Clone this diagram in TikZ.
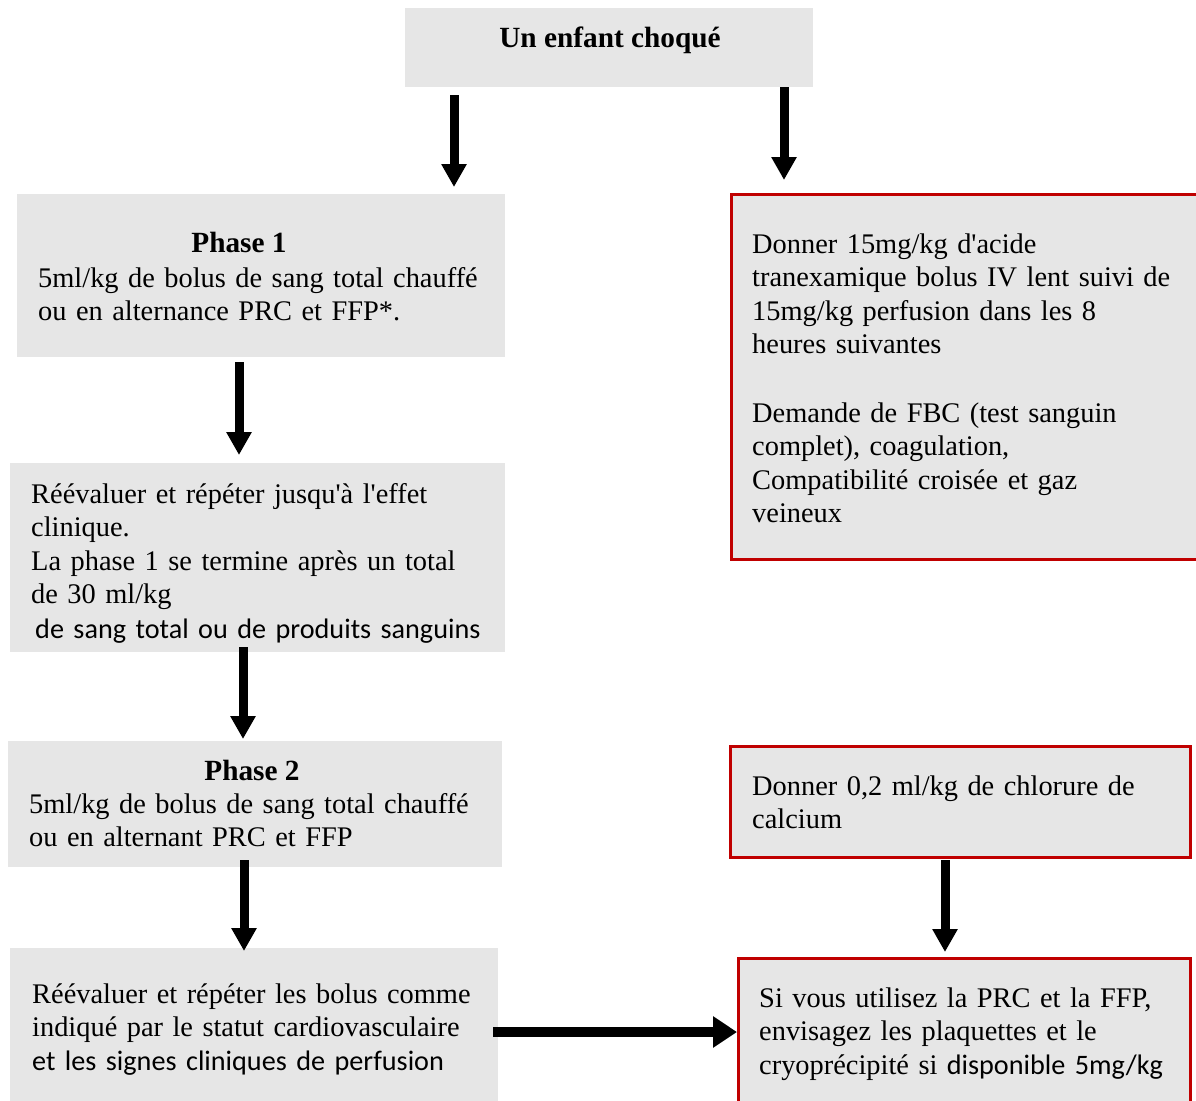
\documentclass[tikz,border=0pt]{standalone}
\usepackage{fontspec}
\setmainfont{Liberation Serif}
\newfontfamily\carlitofont{Carlito}
\newcommand{\sq}{\textquotesingle}
\usetikzlibrary{arrows.meta}
\definecolor{boxgray}{HTML}{E6E6E6}
\definecolor{boxred}{HTML}{C00000}
\begin{document}
\begin{tikzpicture}[x=1pt,y=-1pt,
  panel/.style={fill=boxgray, draw=none, inner sep=0pt, outer sep=0pt, anchor=north west},
  redpanel/.style={panel, draw=boxred, line width=3pt},
  txt/.style={anchor=base west, inner sep=0pt, align=left, text width=490pt,
    font=\fontsize{28.4}{33.5}\selectfont},
  head/.style={anchor=base, inner sep=0pt, font=\fontsize{29.3}{33.5}\selectfont\bfseries},
  flow/.style={line width=9pt, -{Triangle[width=24pt,length=23pt]}},
  flowh/.style={line width=10pt, -{Triangle[width=30pt,length=24pt]}},
]
\useasboundingbox (0,0) rectangle (1196,1100);

% boxes
\node[panel, minimum width=408pt, minimum height=79pt] (top) at (405,8) {};
\node[panel, minimum width=488pt, minimum height=163pt] (p1) at (17,194) {};
\node[panel, minimum width=495pt, minimum height=189pt] (re1) at (10,463) {};
\node[panel, minimum width=494pt, minimum height=126pt] (p2) at (8,741) {};
\node[panel, minimum width=488pt, minimum height=165pt] (re2) at (10,948) {};
\node[redpanel, minimum width=474pt, minimum height=365pt] (tx) at (731,194) {};
\node[redpanel, minimum width=460pt, minimum height=111pt] (ca) at (730,746) {};
\node[redpanel, minimum width=452pt, minimum height=165pt] (cr) at (738,958) {};

% texts
\node[head] (ttop) at (610,47) {Un enfant choqué};
\node[head] (tp1h) at (239,252) {Phase 1};
\node[txt] (tp1) at (38,287) {5ml/kg de bolus de sang total chauffé\\ou en alternance PRC et FFP*.};
\node[txt] (tre1) at (31,503) {Réévaluer et répéter jusqu\sq à l\sq effet\\clinique.\\La phase 1 se termine après un total\\de 30 ml/kg\\[1.5pt]\hspace*{4pt}{\carlitofont\fontsize{28.2}{33.5}\selectfont de sang total ou de produits sanguins}};
\node[head] (tp2h) at (252,780) {Phase 2};
\node[txt] (tp2) at (29,813) {5ml/kg de bolus de sang total chauffé\\ou en alternant PRC et FFP};
\node[txt] (tre2) at (32,1003) {Réévaluer et répéter les bolus comme\\indiqué par le statut cardiovasculaire\\{\carlitofont\fontsize{28.2}{33.5}\selectfont et les signes cliniques de perfusion}};
\node[txt] (ttx) at (752,253) {Donner 15mg/kg d\sq acide\\tranexamique bolus IV lent suivi de\\15mg/kg perfusion dans les 8\\heures suivantes\\[35pt]Demande de FBC (test sanguin\\complet), coagulation,\\Compatibilité croisée et gaz\\veineux};
\node[txt] (tca) at (752,795) {Donner 0,2 ml/kg de chlorure de\\calcium};
\node[txt] (tcr) at (759,1007) {Si vous utilisez la PRC et la FFP,\\envisagez les plaquettes et le\\cryoprécipité si {\carlitofont\fontsize{28.2}{33.5}\selectfont disponible 5mg/kg}};

% connector positions
\coordinate (a1) at (454,0);
\coordinate (a2) at (784,0);
\coordinate (a3) at (239,0);
\coordinate (a4) at (243,0);
\coordinate (a5) at (244,0);
\coordinate (a6) at (945,0);
\coordinate (a7) at (0,1032);

% connectors
\draw[flow] ([yshift=-8pt]top.south -| a1) -- ([yshift=7pt]p1.north -| a1);
\draw[flow] (top.south -| a2) -- ([yshift=14pt]tx.north -| a2);
\draw[flow] ([yshift=-5pt]p1.south -| a3) -- ([yshift=8pt]re1.north -| a3);
\draw[flow] ([yshift=5pt]re1.south -| a4) -- ([yshift=2pt]p2.north -| a4);
\draw[flow] ([yshift=7pt]p2.south -| a5) -- ([yshift=-3pt]re2.north -| a5);
\draw[flow] ([yshift=-3pt]ca.south -| a6) -- ([yshift=6pt]cr.north -| a6);
\draw[flowh] ([xshift=-5pt]re2.east |- a7) -- ([xshift=-1pt]cr.west |- a7);
\end{tikzpicture}
\end{document}
